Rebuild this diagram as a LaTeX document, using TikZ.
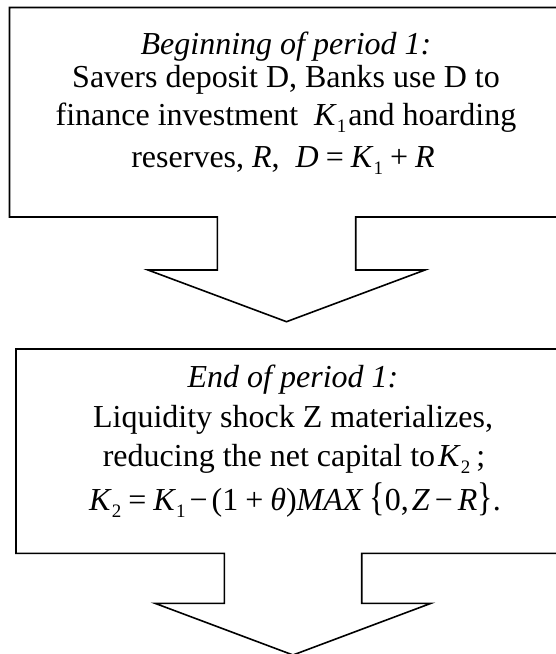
\documentclass[tikz,border=0pt]{standalone}
\usepackage{fontspec}
\setmainfont{Liberation Serif}
\usepackage{graphicx}
\newcommand{\mysub}[1]{\raisebox{-0.24em}{\fontsize{19}{19}\selectfont #1}}
\newcommand{\mv}[1]{\textit{#1}}
\newcommand{\op}[1]{\hspace{7pt}#1\hspace{7pt}}
\begin{document}
\begin{tikzpicture}[x=1pt,y=-1pt,
  callout/.style={draw=black,line width=1.6pt,line join=miter,fill=white},
  txt/.style={anchor=base,inner sep=0pt,font=\fontsize{32}{38}\selectfont}]
\useasboundingbox (0,0) rectangle (556,654);
\clip (0,0) rectangle (556,654);
% first callout
\draw[callout] (9.5,7.5) -- (570,7.5) -- (570,217) -- (355.7,217) -- (355.7,270)
  -- (425,270) -- (286.5,321.7) -- (148,270) -- (217.3,270) -- (217.3,217)
  -- (9.5,217) -- cycle;
% second callout
\draw[callout] (16,349) -- (580,349) -- (580,553.3) -- (361.7,553.3) -- (361.7,603.3)
  -- (431,603.3) -- (293,655) -- (155,603.3) -- (224.3,603.3) -- (224.3,553.3)
  -- (16,553.3) -- cycle;
% texts of first callout
\node[txt] (a1) at (286,54) {\textit{Beginning of period 1:}};
\node[txt] (a2) at (286,87) {Savers deposit D, Banks use D to};
\node[txt] (a3) at (286,125) {finance investment \ \mv{K}\mysub{1}\hspace{2pt}and hoarding};
\node[txt] (a4) at (283,167) {reserves, \mv{R}, \ \mv{D}\op{=}\mv{K}\mysub{1}\op{+}\mv{R}};
% texts of second callout
\node[txt] (b1) at (293,387) {\textit{End of period 1:}};
\node[txt] (b2) at (293,427) {Liquidity shock Z materializes,};
\node[txt] (b3) at (294,466) {reducing the net capital to\hspace{3pt}\mv{K}\mysub{2}\hspace{6pt};};
\node[txt] (b4) at (295,510) {\mv{K}\mysub{2}\op{=}\mv{K}\mysub{1}\hspace{4pt}−\hspace{4pt}(1\op{+}\mv{θ})\mv{MAX}\hspace{6pt}\scalebox{1}[1.25]{\{}0,\hspace{3pt}\mv{Z}\hspace{5pt}−\hspace{5pt}\mv{R}\scalebox{1}[1.25]{\}}.};
\end{tikzpicture}
\end{document}
